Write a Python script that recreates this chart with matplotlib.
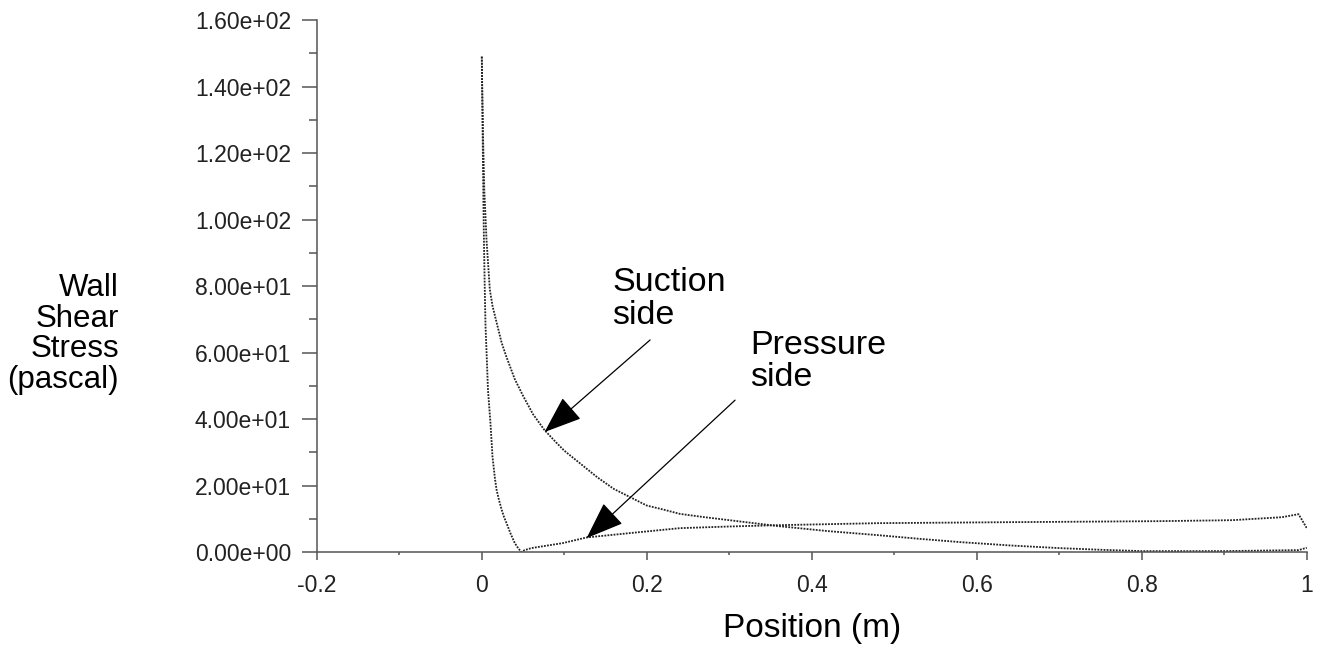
import matplotlib
matplotlib.use('Agg')
import matplotlib.pyplot as plt
from matplotlib.ticker import MultipleLocator, FuncFormatter

plt.rcParams['font.family'] = ['Liberation Sans', 'DejaVu Sans']
plt.rcParams['axes.unicode_minus'] = False

# Suction side wall shear stress
suction_x = [0, 0.0005, 0.0016, 0.003, 0.0057, 0.0097, 0.013, 0.018, 0.024, 0.030,
             0.04, 0.05, 0.062, 0.076, 0.09, 0.10, 0.11, 0.129, 0.14, 0.16,
             0.18, 0.2, 0.22, 0.24, 0.27, 0.30, 0.33, 0.36, 0.40, 0.42,
             0.48, 0.53, 0.58, 0.64, 0.70, 0.75, 0.80, 0.90, 0.99, 1.0]
suction_y = [149, 140, 124, 109, 94, 79, 74, 69, 63, 58.6,
             52, 47, 41.5, 36.7, 33, 30.5, 28.5, 24.7, 22.5, 19,
             16.5, 14, 12.8, 11.5, 10.5, 9.6, 8.7, 7.8, 6.8, 6.3,
             5.1, 4.0, 3.0, 2.0, 1.2, 0.7, 0.3, 0.3, 0.6, 1.3]

# Pressure side wall shear stress
pressure_x = [0, 0.0015, 0.0025, 0.0036, 0.0045, 0.006, 0.0075, 0.0105, 0.013, 0.016,
              0.018, 0.021, 0.024, 0.027, 0.030, 0.035, 0.040, 0.044, 0.048, 0.052,
              0.06, 0.07, 0.098, 0.127, 0.179, 0.24, 0.30, 0.36, 0.48, 0.64,
              0.82, 0.91, 0.97, 0.99, 1.0]
pressure_y = [149, 115, 95, 79, 68, 58.6, 48.7, 38.8, 28.6, 22,
              18.6, 15.5, 12.8, 10.5, 8.7, 5.5, 2.7, 1.2, 0, 0.6,
              1.2, 1.6, 2.7, 4.4, 5.7, 7.2, 7.7, 8.1, 8.7, 9.0,
              9.3, 9.6, 10.5, 11.4, 7.2]

fig = plt.figure(figsize=(13.2, 6.48), dpi=100)
ax = fig.add_axes([0.240, 0.148, 0.750, 0.821])

line_style = dict(color='#222222', lw=1.3, linestyle=(0, (1, 0.7)))
ax.plot(suction_x, suction_y, **line_style)
ax.plot(pressure_x, pressure_y, **line_style)

ax.set_xlim(-0.2, 1)
ax.set_ylim(0, 160)

for s in ['top', 'right']:
    ax.spines[s].set_visible(False)
for s in ['left', 'bottom']:
    ax.spines[s].set_color('#555555')
    ax.spines[s].set_linewidth(1.1)

ax.yaxis.set_major_locator(MultipleLocator(20))
ax.yaxis.set_minor_locator(MultipleLocator(10))
ax.xaxis.set_major_locator(MultipleLocator(0.2))
ax.xaxis.set_minor_locator(MultipleLocator(0.1))
ax.yaxis.set_major_formatter(FuncFormatter(lambda v, p: '{:.2e}'.format(v)))
ax.xaxis.set_major_formatter(FuncFormatter(lambda v, p: '{:g}'.format(round(v, 2))))

ax.tick_params(axis='y', which='major', length=10.5, width=1.1, color='#555555',
               labelsize=16.5, pad=8, labelcolor='#222222')
ax.tick_params(axis='y', which='minor', length=5.5, width=1.1, color='#555555')
ax.tick_params(axis='x', which='major', length=5.5, width=1.1, color='#555555',
               labelsize=16.5, pad=10, labelcolor='#222222')
ax.tick_params(axis='x', which='minor', length=2.5, width=1.1, color='#555555')

ax.set_xlabel('Position (m)', fontsize=24, labelpad=12)
fig.text(119 / 1320, 1 - 334 / 648, 'Wall\nShear\nStress\n(pascal)', fontsize=22.5,
         ha='right', va='center', multialignment='right', linespacing=1.03)

# annotations
ax.text(0.158, 85.7, 'Suction\nside', fontsize=24.5, ha='left', va='top', linespacing=1.06)
ax.text(0.325, 66.8, 'Pressure\nside', fontsize=24.5, ha='left', va='top', linespacing=1.06)

arrow = dict(arrowstyle='-|>,head_length=2.4,head_width=0.9', color='black',
             lw=0.9, shrinkA=0, shrinkB=0, mutation_scale=10)
ax.annotate('', xy=(0.076, 36.1), xytext=(0.204, 63.8), arrowprops=arrow)
ax.annotate('', xy=(0.127, 4.2), xytext=(0.307, 45.7), arrowprops=arrow)

fig.savefig('out.png', dpi=100)
